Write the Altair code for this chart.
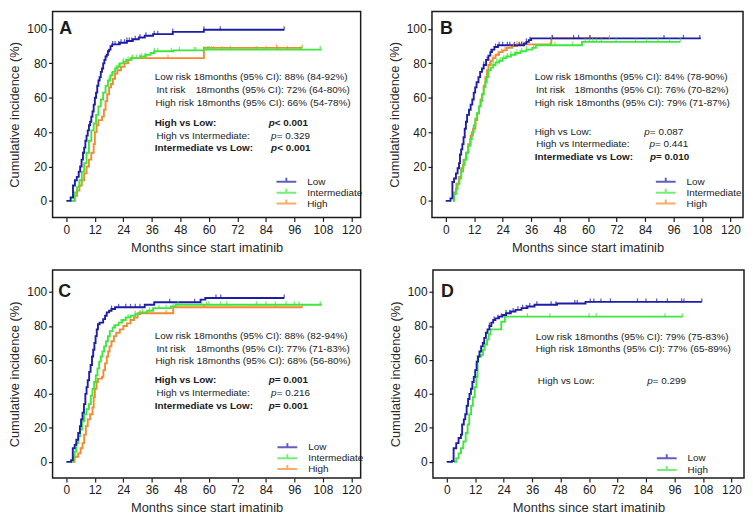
import altair as alt
import pandas as pd

FONT = "Liberation Sans"
INK = "#1b1b1b"
BLUE = "#1d1da8"
GREEN = "#3de83d"
ORANGE = "#f5892d"

X_TITLE = "Months since start imatinib"
Y_TITLE = "Cumulative incidence (%)"
MONTH_TICKS = [0, 12, 24, 36, 48, 60, 72, 84, 96, 108, 120]
PCT_TICKS = [0, 20, 40, 60, 80, 100]

# ---------------- Panel A ----------------
A_LOW_T = [0, 1.8, 2.8, 3.6, 4.4, 5.2, 5.8, 6.4, 7.0, 7.5, 8.0, 8.5, 9.0, 9.5, 10.0, 10.5, 11.0, 11.5, 12.0, 12.5,
           13.0, 13.5, 14.0, 14.5, 15.0, 15.5, 16.0, 16.5, 17.0, 17.5, 18.0, 18.6, 19.3, 22.5, 25.5, 28.0, 30.5, 33.0,
           36.5, 44.8, 57.9, 91.7]
A_LOW_V = [0, 2, 9, 12, 14, 17, 20, 24, 28, 31, 35, 38, 41, 44, 46, 49, 52, 56, 60, 63,
           67, 70, 72, 75, 77, 80, 82, 84, 85, 87, 88, 90, 91, 92, 93, 94, 95, 96,
           97, 98.3, 99.5, 99.5]
A_LOW_C = [19.5, 20.5, 22, 23, 24.5, 25.5, 26.5, 27.5, 29, 31, 33.5, 37, 38.5, 44.8, 57.9, 64.8, 91.7]

A_INT_T = [2.0, 3.5, 4.5, 5.5, 6.5, 7.5, 8.5, 9.5, 10.5, 11.5, 12.5, 13.5, 14.5, 15.5, 16.5, 17.5, 18.5, 19.5, 20.5,
           21.5, 22.5, 24.0, 25.5, 27.0, 31.0, 33.5, 35.5, 37.0, 45.0, 57.9, 107.5]
A_INT_V = [0, 5, 8, 12, 17, 22, 28, 35, 41, 45, 50, 55, 59, 63, 67, 70, 73, 75, 77,
           78, 80, 81, 82, 83, 84, 85, 86, 87, 87.5, 88, 88]
A_INT_C = [18, 19, 21, 22, 24, 25, 26, 28, 29.5, 31.5, 33, 37, 38.5, 44.2, 47.6, 53.8, 54.5, 57.9, 59.3, 60, 61,
           62, 65.5, 69, 80, 84.1, 88.9, 93, 98.6, 106.9]

A_HIGH_T = [3.0, 3.5, 4.5, 5.5, 6.5, 7.5, 8.5, 9.5, 10.5, 11.5, 12.0, 12.7, 13.5, 15.0, 15.8, 16.5, 17.2, 18.0,
            18.8, 19.6, 20.5, 21.5, 23.0, 24.5, 26.0, 27.5, 57.9, 99.3]
A_HIGH_V = [0, 3, 6, 9, 12, 16, 20, 24, 28, 33, 40, 44, 47, 49, 53, 58, 62, 66,
            68, 71, 74, 76, 78, 80, 82, 83, 89, 89]
A_HIGH_C = [27.7, 31, 42.8, 88.5, 99.3]

# ---------------- Panel B ----------------
B_LOW_T = [0, 2.0, 2.8, 3.5, 4.3, 5.0, 5.6, 6.0, 6.5, 7.0, 7.5, 8.0, 8.5, 9.0, 9.8, 10.5, 11.2, 11.8, 12.4, 13.0,
           13.8, 14.5, 15.3, 16.0, 17.0, 18.0, 18.8, 19.5, 20.5, 22.0, 33.0, 34.0, 35.0, 36.0, 107.5]
B_LOW_V = [0, 1.5, 11, 13, 16, 19, 22, 27, 30, 33, 37, 42, 46, 50, 53, 56, 59, 63, 66, 69,
           72, 75, 77, 79, 82, 84.5, 86.5, 88, 89.5, 90.5, 91.5, 92.5, 93.5, 94.5, 94.5]
B_LOW_C = [16, 17.5, 19, 21, 22.5, 24, 26, 27, 29, 31, 32, 34, 35.5, 45, 53.9, 56, 60.8, 92, 100.2, 107.1]

B_INT_T = [3.0, 3.5, 4.3, 5.0, 5.8, 6.5, 7.3, 8.0, 8.8, 9.5, 10.3, 11.0, 11.8, 12.5, 13.2, 14.0, 14.7, 15.3, 16.0,
           16.7, 17.3, 18.0, 19.0, 20.0, 21.0, 22.5, 24.0, 25.5, 27.5, 29.5, 31.5, 34.0, 36.5, 38.0, 57.4, 98.8]
B_INT_V = [0, 4, 7, 10, 13, 17, 21, 24, 28, 32, 36, 40, 44, 48, 51, 55, 58, 62, 66,
           69, 72, 76, 77.5, 79, 80.5, 81.5, 83, 84, 85, 86, 87, 88, 89, 90.5, 92.5, 92.5]
B_INT_C = [20, 21.5, 23, 24.5, 26, 27.5, 29, 30, 32, 34, 37, 44, 46, 53.4, 58.8, 60.5, 62, 63.5, 65.6, 71.8, 80,
           84.7, 89.5, 94.3, 98.8]

B_HIGH_T = [3.0, 3.5, 4.5, 5.5, 6.5, 7.5, 8.5, 9.5, 10.5, 11.5, 12.5, 13.3, 14.0, 14.7, 15.3, 16.0, 16.7, 17.4,
            18.0, 19.0, 19.8, 21.0, 22.5, 24.0, 25.7, 28.0, 30.0, 44.5, 69.0]
B_HIGH_V = [0, 5, 10, 14, 19, 24, 28, 33, 38, 42, 47, 51, 55, 59, 62, 67, 72, 76,
            79, 81.5, 83, 85, 86.5, 87.5, 89, 90, 91, 94.5, 94.5]
B_HIGH_C = [18.5, 20, 22, 23.5, 25, 27, 28.5, 30, 32, 44.6, 60.8, 69.0]

# ---------------- Panel C ----------------
C_LOW_T = [0, 2.0, 2.7, 3.5, 4.2, 5.0, 5.7, 6.2, 6.8, 7.4, 8.0, 8.5, 9.0, 9.6, 10.2, 10.8, 11.3, 11.8, 12.3, 12.8,
           13.3, 14.0, 15.5, 16.3, 17.0, 18.0, 19.0, 20.5, 33.0, 37.0, 56.5, 58.5, 91.7]
C_LOW_V = [0, 1, 8, 10, 13, 17, 21, 25, 29, 34, 40, 44, 48, 53, 57, 62, 66, 70, 74, 78,
           81, 82, 84, 86, 88, 89, 90, 91, 92.5, 94, 95.5, 96.5, 96.5]
C_LOW_C = [19, 22, 25, 27, 29, 31, 43.5, 54, 63, 65, 91.7]

C_INT_T = [2.0, 3.0, 3.5, 4.2, 5.0, 5.8, 6.6, 7.5, 8.5, 9.5, 10.3, 11.0, 11.7, 12.4, 13.1, 13.8, 14.5, 15.2, 15.9,
           16.7, 17.5, 18.3, 19.5, 20.5, 22.0, 23.5, 25.0, 27.0, 29.0, 31.0, 34.0, 36.5, 44.0, 46.0, 107.5]
C_INT_V = [0, 3, 6, 11, 15, 19, 24, 28, 31, 34, 39, 43, 47, 51, 55, 59, 62, 65, 68,
           71, 74, 77, 79, 80.5, 82, 83.5, 85, 86, 87, 88, 89, 90.5, 91.5, 92.5, 92.5]
C_INT_C = [20, 23, 26, 29, 32, 35, 39, 42, 45, 47, 57, 59, 60, 65, 67.5, 80, 84, 88, 92.5, 96, 98, 106.9]

C_HIGH_T = [3.0, 3.5, 5.0, 6.0, 6.8, 7.5, 8.2, 9.0, 10.0, 11.0, 11.5, 12.0, 12.7, 13.3, 15.0, 15.6, 16.3, 17.0,
            17.6, 18.2, 19.0, 20.0, 21.0, 22.5, 24.0, 25.5, 27.0, 28.5, 30.0, 45.0, 99.3]
C_HIGH_V = [0, 3, 5, 8, 11, 16, 21, 25, 28, 32, 38, 43, 47, 49, 50, 54, 58, 62,
            65, 68, 71, 74, 76, 78, 80, 81.5, 83.5, 85, 87.5, 91, 91]
C_HIGH_C = [31, 42, 58, 88, 99.3]

# ---------------- Panel D ----------------
D_LOW_T = [0, 2.2, 2.9, 4.0, 5.0, 6.0, 6.5, 7.2, 7.8, 8.4, 9.0, 9.6, 10.2, 10.8, 11.4, 12.0, 12.6, 13.2, 13.8, 14.5,
           15.2, 15.8, 16.5, 17.2, 18.0, 18.8, 19.6, 20.5, 22.0, 23.5, 25.0, 27.0, 29.0, 31.5, 34.0, 37.0, 46.5, 58.5,
           107.5]
D_LOW_V = [0, 0.5, 8, 11, 14, 16, 22, 25, 28, 33, 37, 40, 43, 47, 50, 54, 59, 62, 65, 68,
           70, 73, 76, 78, 80, 82, 83.5, 84.5, 85.5, 86.5, 87.5, 88.5, 89.5, 90.5, 91.5, 92.5, 93.2, 94.2,
           94.2]
D_LOW_C = [18, 20, 21.5, 23, 25, 26.5, 28, 30, 32, 33.5, 35, 38, 44, 46, 54, 55, 60.5, 62, 65, 69, 80.4, 84,
           88.5, 93, 99, 100, 107.5]

D_HIGH_T = [3.0, 4.0, 5.0, 6.0, 7.0, 8.0, 8.8, 9.5, 10.3, 11.0, 11.8, 12.5, 13.0, 14.5, 15.3, 16.0, 17.0, 17.7,
            18.5, 23.0, 24.5, 99.3]
D_HIGH_V = [0, 2, 5, 8, 12, 17, 22, 28, 33, 38, 44, 50, 62, 63, 66, 69, 72, 75,
            78, 82.5, 85.5, 85.5]
D_HIGH_C = [34, 43.5, 60, 63, 92, 99.3]

# ---------------- annotation texts ----------------
A_RISK = ["Low risk", "Int risk", "High risk"]
A_EST = ["18months (95% CI): 88% (84-92%)", "18months (95% CI): 72% (64-80%)", "18months (95% CI): 66% (54-78%)"]
A_CMP = ["High vs Low:", "High vs Intermediate:", "Intermediate vs Low:"]
A_P = ["< 0.001", "= 0.329", "< 0.001"]

B_RISK = ["Low risk", "Int risk", "High risk"]
B_EST = ["18months (95% CI): 84% (78-90%)", "18months (95% CI): 76% (70-82%)", "18months (95% CI): 79% (71-87%)"]
B_CMP = ["High vs Low:", "High vs Intermediate:", "Intermediate vs Low:"]
B_P = ["= 0.087", "= 0.441", "= 0.010"]

C_RISK = ["Low risk", "Int risk", "High risk"]
C_EST = ["18months (95% CI): 88% (82-94%)", "18months (95% CI): 77% (71-83%)", "18months (95% CI): 68% (56-80%)"]
C_CMP = ["High vs Low:", "High vs Intermediate:", "Intermediate vs Low:"]
C_P = ["= 0.001", "= 0.216", "= 0.001"]

D_RISK = ["Low risk", "High risk"]
D_EST = ["18months (95% CI): 79% (75-83%)", "18months (95% CI): 77% (65-89%)"]
D_CMP = ["High vs Low:"]
D_P = ["= 0.299"]

# ---------------- layout (positions in axis units / pixels) ----------------
# est_x None -> the estimate follows the risk label on the same line
LAYOUT = {
    "A": dict(w=311, h=208, xdom=[-5.8, 123.9], ydom=[-9.6, 110.2], letter=(-3.0, 100),
              risk_x=[37.2, 37.9, 37.5], est_x=[None, 54.5, None], rows=[71.9, 64.4, 57.2],
              cmp_x=[37.2, 37.9, 37.2], p_x=[85.2, 86.2, 86.2], prow=[45.2, 38.0, 30.9],
              bold=[True, False, True], leg=(230, 166, -2.5)),
    "B": dict(w=314, h=208, xdom=[-5.8, 125.3], ydom=[-9.6, 110.2], letter=(-2.4, 100),
              risk_x=[37.5, 38.0, 37.5], est_x=[None, 54.3, None], rows=[71.9, 64.4, 57.2],
              cmp_x=[37.5, 38.1, 37.5], p_x=[83.7, 85.9, 86.1], prow=[40.3, 32.9, 25.3],
              bold=[False, False, True], leg=(230, 166, -2.5)),
    "C": dict(w=311, h=210, xdom=[-5.8, 123.9], ydom=[-9.5, 113], letter=(-3.4, 100),
              risk_x=[37.2, 37.9, 37.5], est_x=[None, 54.5, None], rows=[74.1, 66.4, 59.6],
              cmp_x=[37.2, 37.9, 37.2], p_x=[85.2, 86.2, 85.2], prow=[47.9, 40.4, 32.8],
              bold=[True, False, True], leg=(231, 173, -2.5)),
    "D": dict(w=314, h=210, xdom=[-5.8, 125.3], ydom=[-9.5, 113], letter=(-2.4, 100),
              risk_x=[37.5, 37.5], est_x=[None, None], rows=[73.7, 66.2],
              cmp_x=[38.4], p_x=[84.5], prow=[47.4],
              bold=[False], leg=(230, 184, -1)),
}

LEGEND_SYMBOL = "M-2,0L2,0M0,0L0,-0.8"


def step_at(ts, vs, t):
    val = vs[0]
    for tt, vv in zip(ts, vs):
        if tt <= t:
            val = vv
        else:
            break
    return val


def make_panel(key, curves, risk, est, cmp_, pvals):
    L = LAYOUT[key]
    groups = [c[0] for c in curves]
    colors = [c[1] for c in curves]
    line_rows, cens_rows = [], []
    for name, color, ts, vs, cs in reversed(curves):
        for t, v in zip(ts, vs):
            line_rows.append({"g": name, "t": t, "v": v})
        for c in cs:
            cens_rows.append({"g": name, "t": c, "v": step_at(ts, vs, c)})

    xs = alt.Scale(domain=L["xdom"], nice=False, zero=False)
    ys = alt.Scale(domain=L["ydom"], nice=False, zero=False)
    X = alt.X("t:Q", scale=xs, axis=alt.Axis(values=MONTH_TICKS, title=X_TITLE, titleFontWeight="normal"))
    Y = alt.Y("v:Q", scale=ys, axis=alt.Axis(values=PCT_TICKS, title=Y_TITLE, titleFontWeight="normal"))
    lx, ly, rp = L["leg"]
    leg = alt.Legend(title=None, orient="none", legendX=lx, legendY=ly, padding=0,
                     symbolType=LEGEND_SYMBOL, symbolSize=100, symbolStrokeWidth=2,
                     labelFont=FONT, labelFontSize=10, labelColor=INK, labelOffset=15,
                     rowPadding=rp)
    C = alt.Color("g:N", scale=alt.Scale(domain=groups, range=colors), legend=leg)

    lines = alt.Chart(pd.DataFrame(line_rows)).mark_line(
        interpolate="step-after", strokeWidth=1.9).encode(x=X, y=Y, color=C)
    ticks = alt.Chart(pd.DataFrame(cens_rows)).mark_tick(
        orient="vertical", size=4, thickness=1.3, yOffset=-1.5).encode(x=X, y=Y, color=C)
    layers = [lines, ticks]

    # text rows: (text, t, v, weight, style, size, dx)
    notes = []
    notes.append((key, L["letter"][0], L["letter"][1], "bold", "normal", 18, 0))
    for i in range(len(risk)):
        if L["est_x"][i] is None:
            notes.append((risk[i] + " " + est[i], L["risk_x"][i], L["rows"][i], "normal", "normal", 10, 0))
        else:
            notes.append((risk[i], L["risk_x"][i], L["rows"][i], "normal", "normal", 10, 0))
            notes.append((est[i], L["est_x"][i], L["rows"][i], "normal", "normal", 10, 0))
    for i in range(len(cmp_)):
        w = "bold" if L["bold"][i] else "normal"
        notes.append((cmp_[i], L["cmp_x"][i], L["prow"][i], w, "normal", 10, 0))
        notes.append(("p", L["p_x"][i], L["prow"][i], w, "italic", 10, 0))
        notes.append((pvals[i], L["p_x"][i], L["prow"][i], w, "normal", 10, 6.1 if w == "bold" else 5.6))
    ndf = pd.DataFrame(notes, columns=["s", "t", "v", "w", "st", "fs", "dx"])
    for (w, st, fs, dx), sub in ndf.groupby(["w", "st", "fs", "dx"]):
        layers.append(
            alt.Chart(sub[["s", "t", "v"]]).mark_text(
                align="left", baseline="middle", font=FONT, fontSize=float(fs), fontWeight=w,
                fontStyle=st, color=INK, dx=float(dx)
            ).encode(x=X, y=Y, text="s:N")
        )
    return alt.layer(*layers).properties(width=L["w"], height=L["h"])


pa = make_panel("A", [("Low", BLUE, A_LOW_T, A_LOW_V, A_LOW_C),
                      ("Intermediate", GREEN, A_INT_T, A_INT_V, A_INT_C),
                      ("High", ORANGE, A_HIGH_T, A_HIGH_V, A_HIGH_C)], A_RISK, A_EST, A_CMP, A_P)
pb = make_panel("B", [("Low", BLUE, B_LOW_T, B_LOW_V, B_LOW_C),
                      ("Intermediate", GREEN, B_INT_T, B_INT_V, B_INT_C),
                      ("High", ORANGE, B_HIGH_T, B_HIGH_V, B_HIGH_C)], B_RISK, B_EST, B_CMP, B_P)
pc = make_panel("C", [("Low", BLUE, C_LOW_T, C_LOW_V, C_LOW_C),
                      ("Intermediate", GREEN, C_INT_T, C_INT_V, C_INT_C),
                      ("High", ORANGE, C_HIGH_T, C_HIGH_V, C_HIGH_C)], C_RISK, C_EST, C_CMP, C_P)
pd_ = make_panel("D", [("Low", BLUE, D_LOW_T, D_LOW_V, D_LOW_C),
                       ("High", GREEN, D_HIGH_T, D_HIGH_V, D_HIGH_C)], D_RISK, D_EST, D_CMP, D_P)

top = alt.hconcat(pa, pb, spacing=24).resolve_scale(color="independent")
bottom = alt.hconcat(pc, pd_, spacing=24).resolve_scale(color="independent")
chart = alt.vconcat(top, bottom, spacing=14).resolve_scale(color="independent").properties(padding=0)

chart = chart.configure(font=FONT).configure_view(
    stroke=INK, strokeWidth=1.5
).configure_axis(
    domain=False, grid=False, labelFont=FONT, titleFont=FONT, labelFontSize=12, titleFontSize=13,
    titleFontWeight="normal", labelColor=INK, titleColor="#2a2a2a", tickColor=INK, tickSize=4, tickWidth=1.2,
    labelFlush=False
).configure_axisX(labelPadding=3, titlePadding=6).configure_axisY(labelPadding=2, titlePadding=5)

chart.save("out.html", embed_options={"renderer": "svg", "actions": False})
